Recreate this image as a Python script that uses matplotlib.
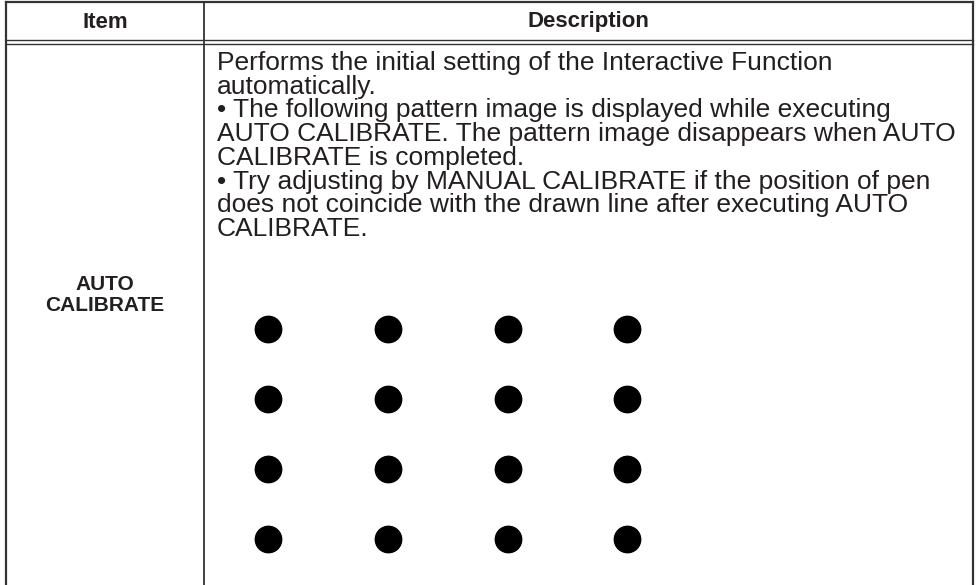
import matplotlib
matplotlib.use('Agg')
import matplotlib.pyplot as plt

# table content
headers = ['Item', 'Description']
item = 'AUTO\nCALIBRATE'
desc_lines = [
    'Performs the initial setting of the Interactive Function',
    'automatically.',
    '\u2022 The following pattern image is displayed while executing',
    'AUTO CALIBRATE. The pattern image disappears when AUTO',
    'CALIBRATE is completed.',
    '\u2022 Try adjusting by MANUAL CALIBRATE if the position of pen',
    'does not coincide with the drawn line after executing AUTO',
    'CALIBRATE.',
]

# calibration pattern grid (pixel positions in the picture)
dot_cols = [268, 388, 508, 627]
dot_rows = [329, 399, 469, 539]

plt.rcParams['font.family'] = ['Liberation Sans', 'DejaVu Sans']
fig = plt.figure(figsize=(9.78, 5.85), dpi=100)
ax = fig.add_axes([0, 0, 1, 1])
ax.set_xlim(0, 978)
ax.set_ylim(585, 0)
ax.axis('off')

line_c = '#333333'
# outer border and column divider
ax.plot([6, 6], [2, 585], color=line_c, lw=1.6)
ax.plot([973, 973], [2, 585], color=line_c, lw=1.6)
ax.plot([6, 973], [2, 2], color=line_c, lw=1.6)
ax.plot([204, 204], [2, 585], color=line_c, lw=1.3)
# double line under the header
ax.plot([6, 973], [40, 40], color=line_c, lw=1.0)
ax.plot([6, 973], [44, 44], color=line_c, lw=1.0)

txt_c = '#231f20'
ax.text(105, 22, headers[0], ha='center', va='center', fontsize=16,
        fontweight='bold', color=txt_c)
ax.text(588, 22, headers[1], ha='center', va='center', fontsize=16,
        fontweight='bold', color=txt_c)
ax.text(105, 295, item, ha='center', va='center', fontsize=15,
        fontweight='bold', color=txt_c, linespacing=1.15)

for i, line in enumerate(desc_lines):
    ax.text(217, 63 + i * 23.7, line, ha='left', va='center', fontsize=19,
            color=txt_c)

for y in dot_rows:
    for x in dot_cols:
        ax.plot(x, y, 'o', color='black', markersize=19)

fig.savefig('out.png', dpi=100)
